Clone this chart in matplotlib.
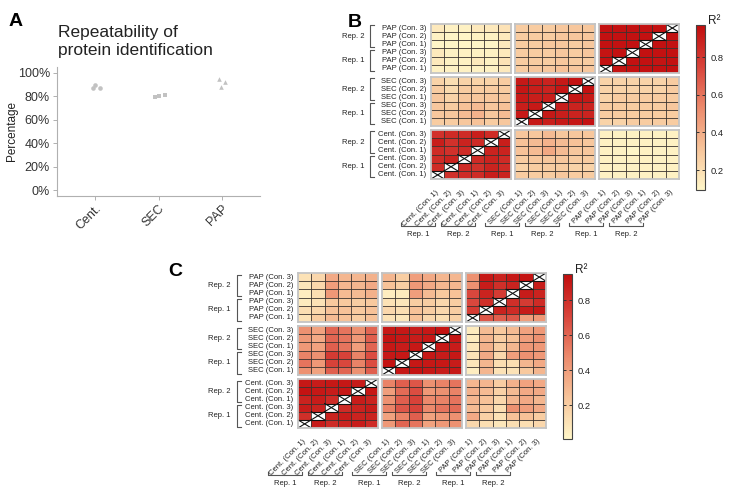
import numpy as np
import matplotlib
matplotlib.use('Agg')
import matplotlib.pyplot as plt
from matplotlib.colors import LinearSegmentedColormap, Normalize
from matplotlib.cm import ScalarMappable

plt.rcParams['font.family'] = ['Liberation Sans', 'DejaVu Sans']

nan = np.nan

# ---- panel A data ----
methods = ['Cent.', 'SEC', 'PAP']
cent_vals = [0.90, 0.87, 0.87]
sec_vals = [0.79, 0.80, 0.81]
pap_vals = [0.95, 0.88, 0.92]
cent_jit = [0.0, -0.04, 0.07]
sec_jit = [-0.05, 0.01, 0.10]
pap_jit = [-0.04, -0.02, 0.05]

# ---- heatmap data (rows listed top to bottom, columns left to right) ----
b_rows = [
    [0.15, 0.12, 0.12, 0.15, 0.15, 0.18, 0.28, 0.28, 0.28, 0.30, 0.30, 0.30, 0.95, 0.95, 0.95, 0.95, 0.95, nan],
    [0.12, 0.10, 0.10, 0.12, 0.12, 0.15, 0.28, 0.28, 0.28, 0.30, 0.30, 0.30, 0.95, 0.95, 0.95, 0.95, nan, 0.95],
    [0.10, 0.10, 0.10, 0.10, 0.10, 0.15, 0.28, 0.28, 0.30, 0.30, 0.28, 0.30, 0.95, 0.95, 0.95, nan, 0.95, 0.95],
    [0.15, 0.12, 0.12, 0.12, 0.12, 0.15, 0.28, 0.28, 0.28, 0.30, 0.28, 0.30, 0.94, 0.95, nan, 0.95, 0.95, 0.95],
    [0.15, 0.12, 0.12, 0.15, 0.12, 0.18, 0.28, 0.28, 0.28, 0.30, 0.28, 0.28, 0.95, nan, 0.95, 0.95, 0.94, 0.95],
    [0.12, 0.12, 0.12, 0.12, 0.12, 0.15, 0.28, 0.30, 0.30, 0.32, 0.30, 0.30, nan, 0.94, 0.95, 0.95, 0.95, 0.95],
    [0.25, 0.20, 0.25, 0.25, 0.25, 0.28, 0.92, 0.90, 0.88, 0.92, 0.95, nan, 0.25, 0.25, 0.25, 0.25, 0.25, 0.28],
    [0.28, 0.22, 0.28, 0.28, 0.28, 0.28, 0.93, 0.90, 0.88, 0.93, nan, 0.95, 0.25, 0.25, 0.25, 0.25, 0.25, 0.28],
    [0.30, 0.25, 0.30, 0.30, 0.30, 0.30, 0.92, 0.90, 0.90, nan, 0.93, 0.92, 0.25, 0.28, 0.28, 0.28, 0.28, 0.28],
    [0.30, 0.28, 0.32, 0.35, 0.30, 0.32, 0.90, 0.92, nan, 0.90, 0.88, 0.88, 0.28, 0.28, 0.28, 0.28, 0.28, 0.30],
    [0.30, 0.30, 0.35, 0.38, 0.30, 0.35, 0.92, nan, 0.92, 0.90, 0.88, 0.88, 0.28, 0.28, 0.28, 0.28, 0.28, 0.28],
    [0.28, 0.28, 0.30, 0.32, 0.28, 0.30, nan, 0.92, 0.90, 0.92, 0.93, 0.95, 0.25, 0.25, 0.28, 0.28, 0.28, 0.28],
    [0.82, 0.85, 0.85, 0.90, 0.85, nan, 0.30, 0.30, 0.35, 0.30, 0.30, 0.30, 0.12, 0.12, 0.12, 0.12, 0.12, 0.12],
    [0.90, 0.82, 0.88, 0.85, nan, 0.90, 0.32, 0.35, 0.38, 0.35, 0.32, 0.30, 0.12, 0.12, 0.12, 0.12, 0.12, 0.12],
    [0.85, 0.82, 0.85, nan, 0.88, 0.88, 0.32, 0.35, 0.42, 0.35, 0.30, 0.30, 0.12, 0.12, 0.10, 0.12, 0.12, 0.12],
    [0.85, 0.88, nan, 0.85, 0.88, 0.85, 0.28, 0.30, 0.30, 0.30, 0.28, 0.28, 0.12, 0.12, 0.12, 0.12, 0.12, 0.12],
    [0.85, nan, 0.85, 0.82, 0.88, 0.85, 0.25, 0.28, 0.28, 0.28, 0.25, 0.25, 0.12, 0.12, 0.12, 0.12, 0.12, 0.12],
    [nan, 0.82, 0.85, 0.85, 0.90, 0.88, 0.28, 0.28, 0.28, 0.30, 0.28, 0.28, 0.12, 0.12, 0.12, 0.12, 0.12, 0.12],
]

c_rows = [
    [0.10, 0.15, 0.35, 0.30, 0.30, 0.32, 0.30, 0.20, 0.40, 0.35, 0.30, 0.30, 0.45, 0.90, 0.85, 0.90, 0.92, nan],
    [0.08, 0.15, 0.40, 0.30, 0.30, 0.35, 0.25, 0.20, 0.42, 0.35, 0.30, 0.30, 0.45, 0.88, 0.80, 0.85, nan, 0.88],
    [0.05, 0.12, 0.42, 0.28, 0.28, 0.32, 0.05, 0.06, 0.40, 0.28, 0.22, 0.25, 0.70, 0.85, 0.75, nan, 0.88, 0.85],
    [0.06, 0.10, 0.22, 0.22, 0.20, 0.22, 0.10, 0.08, 0.20, 0.20, 0.15, 0.20, 0.70, 0.80, nan, 0.80, 0.75, 0.82],
    [0.12, 0.15, 0.25, 0.25, 0.22, 0.25, 0.15, 0.12, 0.25, 0.20, 0.15, 0.20, 0.75, nan, 0.85, 0.82, 0.88, 0.90],
    [0.10, 0.20, 0.28, 0.25, 0.20, 0.25, 0.10, 0.08, 0.25, 0.15, 0.12, 0.18, nan, 0.65, 0.62, 0.65, 0.40, 0.42],
    [0.45, 0.38, 0.60, 0.55, 0.45, 0.60, 0.90, 0.90, 0.88, 0.90, 0.92, nan, 0.06, 0.28, 0.22, 0.28, 0.38, 0.42],
    [0.42, 0.35, 0.60, 0.55, 0.42, 0.62, 0.92, 0.90, 0.88, 0.90, nan, 0.90, 0.06, 0.30, 0.20, 0.25, 0.40, 0.45],
    [0.42, 0.38, 0.62, 0.55, 0.40, 0.60, 0.90, 0.88, 0.90, nan, 0.90, 0.88, 0.08, 0.32, 0.20, 0.30, 0.42, 0.42],
    [0.50, 0.45, 0.75, 0.72, 0.50, 0.68, 0.90, 0.90, nan, 0.90, 0.88, 0.90, 0.10, 0.35, 0.15, 0.40, 0.45, 0.42],
    [0.55, 0.42, 0.72, 0.70, 0.50, 0.68, 0.92, nan, 0.90, 0.90, 0.90, 0.88, 0.08, 0.30, 0.12, 0.12, 0.30, 0.35],
    [0.45, 0.38, 0.62, 0.60, 0.45, 0.62, nan, 0.90, 0.92, 0.90, 0.88, 0.90, 0.05, 0.30, 0.10, 0.10, 0.22, 0.30],
    [0.90, 0.88, 0.90, 0.90, 0.88, nan, 0.50, 0.62, 0.65, 0.45, 0.50, 0.55, 0.30, 0.30, 0.20, 0.32, 0.38, 0.35],
    [0.92, 0.90, 0.88, 0.90, nan, 0.90, 0.40, 0.58, 0.68, 0.42, 0.45, 0.50, 0.32, 0.28, 0.18, 0.28, 0.35, 0.35],
    [0.85, 0.88, 0.82, nan, 0.88, 0.85, 0.45, 0.62, 0.72, 0.48, 0.50, 0.55, 0.30, 0.25, 0.15, 0.30, 0.35, 0.30],
    [0.88, 0.85, nan, 0.82, 0.85, 0.88, 0.50, 0.65, 0.72, 0.48, 0.55, 0.58, 0.28, 0.22, 0.12, 0.45, 0.40, 0.35],
    [0.80, nan, 0.85, 0.88, 0.85, 0.85, 0.38, 0.50, 0.62, 0.38, 0.42, 0.45, 0.35, 0.18, 0.10, 0.25, 0.25, 0.20],
    [nan, 0.88, 0.82, 0.85, 0.88, 0.82, 0.42, 0.60, 0.55, 0.38, 0.42, 0.45, 0.15, 0.12, 0.08, 0.12, 0.12, 0.15],
]

sample_names = [f'{m} (Con. {k})' for m in methods for rep in (1, 2) for k in (1, 2, 3)]
rep_names = ['Rep. 1', 'Rep. 2']

cmap = LinearSegmentedColormap.from_list(
    'r2', ['#fff6c8', '#f7c49a', '#ec8a6c', '#d8433a', '#c10d0d'])

W, H = 733, 494
fig = plt.figure(figsize=(W / 100, H / 100), dpi=100)


def box(x, y, w, h):
    return [x / W, 1 - (y + h) / H, w / W, h / H]


# ---------------- panel A ----------------
ax = fig.add_axes(box(57, 67, 203, 129))
for i, (vals, jit, mk) in enumerate(zip([cent_vals, sec_vals, pap_vals],
                                        [cent_jit, sec_jit, pap_jit], ['o', 's', '^'])):
    ax.scatter(i + 1 + np.array(jit), vals, marker=mk, s=11, color='#c2c2c2', linewidths=0)
ax.set_xlim(0.4, 3.6)
ax.set_ylim(-0.05, 1.05)
yt = np.arange(0, 1.01, 0.2)
ax.set_yticks(yt)
ax.set_yticklabels([f'{int(round(v * 100))}%' for v in yt])
ax.set_xticks([1, 2, 3])
ax.set_xticklabels(methods, rotation=45, ha='right', rotation_mode='anchor')
for s in ['top', 'right']:
    ax.spines[s].set_visible(False)
for s in ['left', 'bottom']:
    ax.spines[s].set_color('#b0b0b0')
    ax.spines[s].set_linewidth(0.8)
ax.tick_params(colors='#b0b0b0', labelcolor='#333333', labelsize=9, length=3, width=0.7, pad=2)
ax.set_ylabel('Percentage', fontsize=8.5, color='#222222', labelpad=0)
ax.patch.set_alpha(0)

# overlay for text / brackets in pixel coordinates
ov = fig.add_axes([0, 0, 1, 1])
ov.set_xlim(0, W)
ov.set_ylim(H, 0)
ov.axis('off')

ov.text(9, 26, 'A', fontsize=14, fontweight='bold', va='baseline')
ov.text(58, 37, 'Repeatability of', fontsize=12.5, va='baseline', color='#222222')
ov.text(58, 55, 'protein identification', fontsize=12.5, va='baseline', color='#222222')
ov.text(348, 27, 'B', fontsize=14, fontweight='bold', va='baseline')
ov.text(168, 276, 'C', fontsize=14, fontweight='bold', va='baseline')

BW, BH, GX, GY = 80, 49, 4, 4
LC = '#555555'


def heatmap(rows, x0, y0, vmin, vmax):
    mat = np.array(rows, dtype=float)
    norm = Normalize(vmin, vmax)
    for bi in range(3):
        for bj in range(3):
            a = fig.add_axes(box(x0 + bj * (BW + GX), y0 + bi * (BH + GY), BW, BH))
            sub = mat[bi * 6:(bi + 1) * 6, bj * 6:(bj + 1) * 6]
            a.pcolormesh(np.arange(7), np.arange(7), np.ma.masked_invalid(sub),
                         cmap=cmap, norm=norm)
            a.hlines(np.arange(1, 6), 0, 6, color='#3a3330', lw=0.6)
            a.vlines(np.arange(1, 6), 0, 6, color='#3a3330', lw=0.6)
            for r, c in zip(*np.where(np.isnan(sub))):
                a.plot([c, c + 1], [r, r + 1], color='#111111', lw=0.8)
                a.plot([c, c + 1], [r + 1, r], color='#111111', lw=0.8)
                a.hlines([r, r + 1], c, c + 1, color='#111111', lw=0.8)
            a.set_xlim(0, 6)
            a.set_ylim(6, 0)
            a.set_xticks([])
            a.set_yticks([])
            for s in a.spines.values():
                s.set_color('#c4c4c4')
                s.set_linewidth(1.3)

    # row labels
    disp_names = sample_names[::-1]
    for d in range(18):
        bi, r = divmod(d, 6)
        y = y0 + bi * (BH + GY) + (r + 0.5) * BH / 6
        ov.text(x0 - 5, y, disp_names[d], fontsize=5.5, ha='right', va='center', color='#222222')
    bx = x0 - 61
    for bi in range(3):
        for k, rep in enumerate(['Rep. 2', 'Rep. 1']):
            ya = y0 + bi * (BH + GY) + k * BH / 2 + 1.5
            yb = y0 + bi * (BH + GY) + (k + 1) * BH / 2 - 1.5
            ov.plot([bx + 4, bx, bx, bx + 4], [ya, ya, yb, yb], color=LC, lw=0.8)
            ov.text(bx - 6, (ya + yb) / 2, rep, fontsize=5.5, ha='right', va='center', color='#222222')

    # column labels
    ybot = y0 + 3 * BH + 2 * GY

    def cx(c):
        bj, j = divmod(c, 6)
        return x0 + bj * (BW + GX) + (j + 0.5) * BW / 6

    for c in range(18):
        ov.text(cx(c) - 3, ybot + 10, sample_names[c], fontsize=5.5, rotation=45,
                ha='right', va='top', rotation_mode='anchor', color='#222222')
    by = ybot + 47
    for g in range(6):
        xa, xb = cx(3 * g) - 37, cx(3 * g + 2) - 29
        ov.plot([xa, xa, xb, xb], [by - 3, by, by, by - 3], color=LC, lw=0.8)
        ov.text((xa + xb) / 2, by + 8, rep_names[g % 2], fontsize=5.5, ha='center',
                va='center', color='#222222')

    # colorbar
    xr = x0 + 3 * BW + 2 * GX
    cax = fig.add_axes(box(xr + 17, y0 + 1, 9, 165))
    cb = fig.colorbar(ScalarMappable(norm=norm, cmap=cmap), cax=cax)
    cb.set_ticks([0.2, 0.4, 0.6, 0.8])
    cb.outline.set_edgecolor('#444444')
    cb.outline.set_linewidth(0.8)
    cax.tick_params(direction='in', length=2.5, width=0.7, colors='#333333',
                    labelcolor='#222222', labelsize=6.7, left=True, right=True, pad=4)
    ov.text(xr + 29, y0, 'R²', fontsize=8.5, ha='left', va='baseline', color='#222222')


heatmap(b_rows, 431, 24, 0.094, 0.97)
heatmap(c_rows, 298, 273, 0.006, 0.949)

fig.savefig('out.png', dpi=100)
